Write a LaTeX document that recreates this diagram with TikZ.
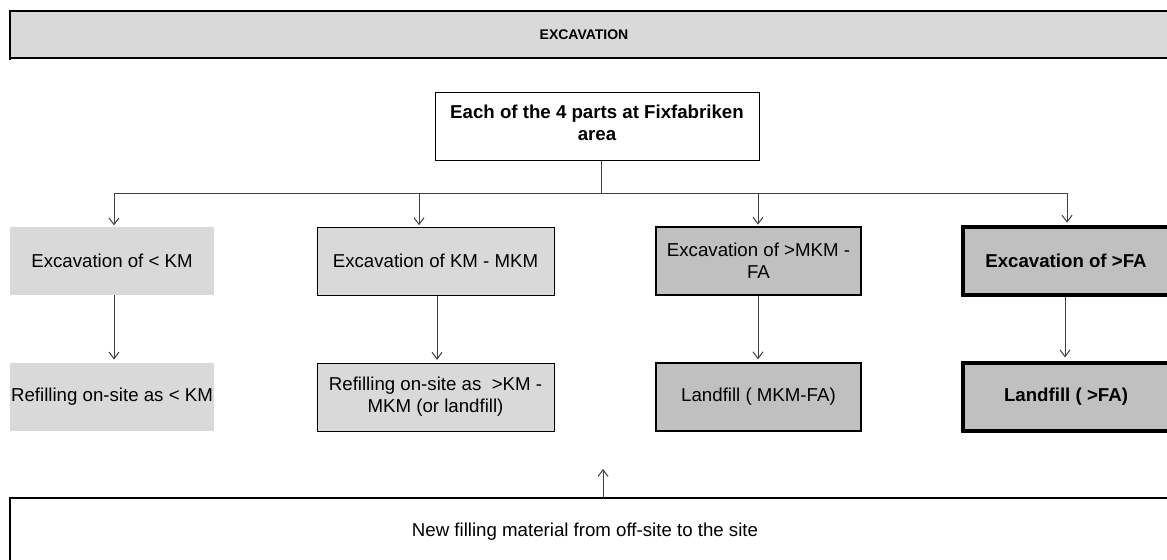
\documentclass[tikz,border=0pt]{standalone}
\usepackage{fontspec}
\setmainfont{Liberation Sans}
\usetikzlibrary{arrows.meta}
\definecolor{lightfill}{HTML}{D9D9D9}
\definecolor{darkfill}{HTML}{C0C0C0}
\begin{document}
\begin{tikzpicture}[x=0.75pt,y=-0.75pt,
  box/.style={rectangle, inner xsep=1pt, inner ysep=2pt, align=center,
    font=\fontsize{14}{16.5}\selectfont, minimum height=51pt},
  light/.style={box, fill=lightfill},
  lightline/.style={light, draw=black, line width=0.75pt},
  dark/.style={box, fill=darkfill, draw=black, line width=1.6pt},
  darkbold/.style={dark, line width=2.4pt, font=\fontsize{14}{16.5}\selectfont\bfseries},
  link/.style={draw=black!75, line width=0.75pt},
  arr/.style={link, -{Straight Barb[length=5pt,width=7.5pt]}, shorten >=1pt},
]
\useasboundingbox (0,0) rectangle (1167,560);
\fill[white] (0,0) rectangle (1167,560);

% title banner, open to the right
\fill[lightfill] (10,11) rectangle (1180,58);
\draw[line width=1.5pt] (1180,11) -- (10,11) -- (10,60);
\draw[line width=1.5pt] (10,58) -- (1180,58);
\node[font=\fontsize{10.5}{12.5}\selectfont\bfseries] (banner) at (584,35) {EXCAVATION};

% source box (text sits a little above its centre)
\node[box, draw, fill=white, line width=0.75pt, minimum width=243pt, minimum height=50.25pt,
  inner ysep=0pt, text depth=6pt,
  font=\fontsize{14}{16.5}\selectfont\bfseries] (parts) at (597,126.5)
  {Each of the 4 parts at Fixfabriken\\area};

% excavation classes
\node[light, minimum width=153pt] (e1) at (112,261) {Excavation of < KM};
\node[lightline, minimum width=177.75pt] (e2) at (435.5,261) {Excavation of KM - MKM};
\node[dark, minimum width=153.75pt] (e3) at (758.5,261) {Excavation of >MKM -\\FA};
\node[darkbold, minimum width=154.5pt] (e4) at (1066,261) {Excavation of >FA};

% destinations
\node[light, minimum width=153pt] (r1) at (112,396.5) {Refilling on-site as < KM};
\node[lightline, minimum width=177.75pt] (r2) at (435.5,397) {Refilling on-site as \ >KM -\\MKM (or landfill)};
\node[dark, minimum width=153.75pt] (r3) at (758.5,397) {Landfill ( MKM-FA)};
\node[darkbold, minimum width=154.5pt] (r4) at (1066,397) {Landfill ( >FA)};

% off-site supply
\node[draw, line width=1.1pt, minimum width=877.5pt, minimum height=61.5pt] (supply) at (595,539) {};
\node[box, minimum height=0pt] (supplytext) at (585,532) {New filling material from off-site to the site};

% distribution bus
\coordinate (drop) at (601,193);
\coordinate (busL) at (114,193);
\coordinate (busR) at (1067,193);
\coordinate (t2) at (419,193);
\coordinate (t3) at (758,193);
\draw[link] (parts.south -| drop) -- (drop);
\draw[link] (busL) -- (busR);
\draw[arr] (busL) -- (busL |- e1.north);
\draw[arr] (t2) -- (t2 |- e2.north);
\draw[arr] (t3) -- (t3 |- e3.north);
\draw[arr, shorten >=2pt] (busR) -- (busR |- e4.north);

% class to destination
\coordinate (m1) at (114,0);
\coordinate (m2) at (437,0);
\coordinate (m3) at (758,0);
\coordinate (m4) at (1065,0);
\draw[arr, shorten >=2pt] (e1.south -| m1) -- (r1.north -| m1);
\draw[arr, shorten >=2pt] (e2.south -| m2) -- (r2.north -| m2);
\draw[arr, shorten >=2pt] (e3.south -| m3) -- (r3.north -| m3);
\draw[arr, shorten >=3pt] (e4.south -| m4) -- (r4.north -| m4);

% supply into the site
\coordinate (feed) at (603,469);
\draw[arr, shorten >=0pt] (supply.north -| feed) -- (feed);
\end{tikzpicture}
\end{document}
